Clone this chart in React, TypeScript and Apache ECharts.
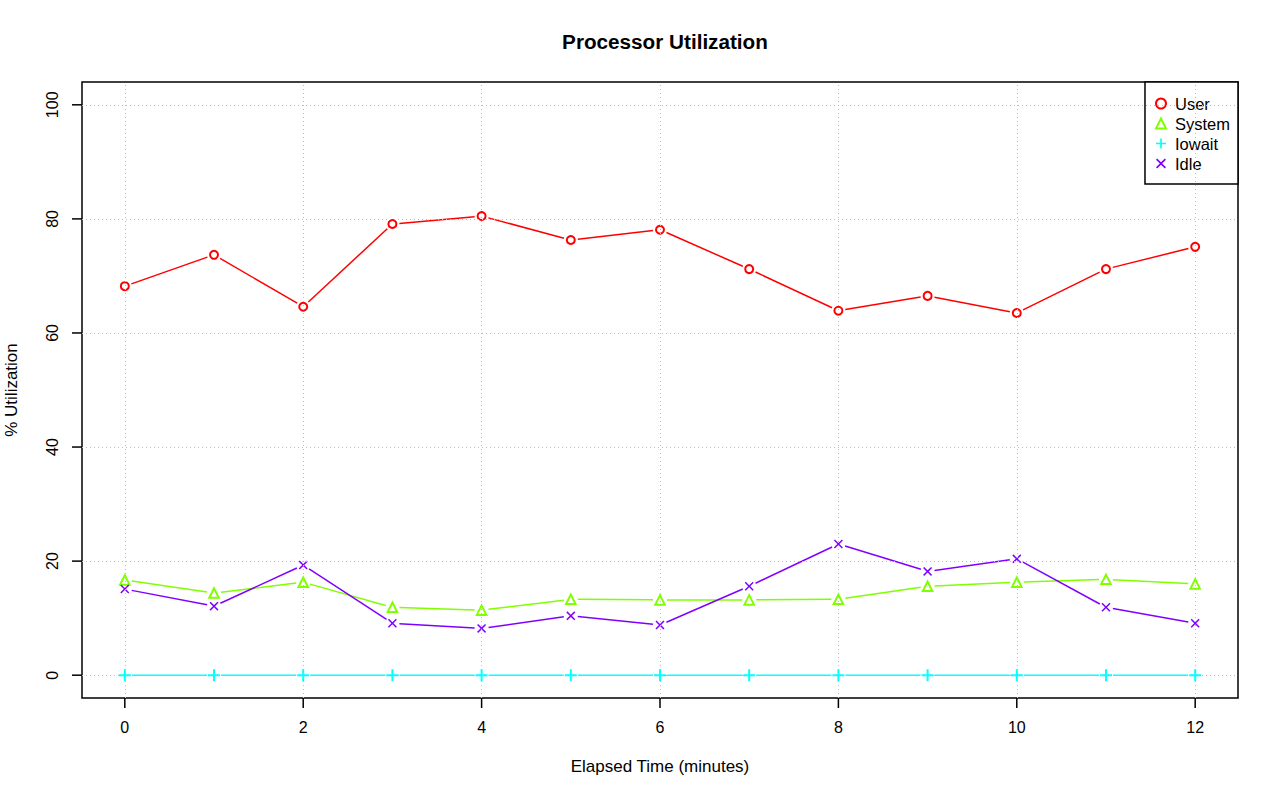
import React, { useEffect, useRef } from "react";
import * as echarts from "echarts";

const minutes = [0, 1, 2, 3, 4, 5, 6, 7, 8, 9, 10, 11, 12];
const userVals = [68.2, 73.7, 64.6, 79.1, 80.5, 76.3, 78.1, 71.2, 63.9, 66.5, 63.5, 71.2, 75.1];
const systemVals = [16.7, 14.4, 16.3, 11.9, 11.4, 13.3, 13.2, 13.2, 13.3, 15.6, 16.3, 16.8, 16.0];
const iowaitVals = [0, 0, 0, 0, 0, 0, 0, 0, 0, 0, 0, 0, 0];
const idleVals = [15.1, 12.1, 19.3, 9.1, 8.2, 10.4, 8.8, 15.6, 23.0, 18.2, 20.4, 11.9, 9.1];
const xTicks = [0, 2, 4, 6, 8, 10, 12];
const yTicks = [0, 20, 40, 60, 80, 100];
const seriesNames = ["User", "System", "Iowait", "Idle"];

const COLORS = ["#FF0000", "#80FF00", "#00FFFF", "#8000FF"];
const PLUS = "path://M5,0H7V5H12V7H7V12H5V7H0V5H5Z";
const CROSS =
  "path://M0,1.4L1.4,0L6,4.6L10.6,0L12,1.4L7.4,6L12,10.6L10.6,12L6,7.4L1.4,12L0,10.6L4.6,6Z";
const SYMBOLS = ["emptyCircle", "emptyTriangle", PLUS, CROSS];
const SIZES = [8, 9.5, 12, 9];
const FONT = "Liberation Sans";
const TICK_LEN = 10;
const X_MIN = -0.48;
const X_MAX = 12.48;
const Y_MIN = -4;
const Y_MAX = 104;

export default function App() {
  const ref = useRef<HTMLDivElement>(null);
  useEffect(() => {
    document.body.style.margin = "0";
    const chart = echarts.init(ref.current!, null, { renderer: "svg" });
    const all = [userVals, systemVals, iowaitVals, idleVals];
    const GAP = 7;

    const lineSeries = all.map((vals, si) => {
      const segs = [];
      for (let i = 0; i < vals.length - 1; i++) {
        segs.push([minutes[i], vals[i], minutes[i + 1], vals[i + 1]]);
      }
      const s: any = {
        type: "custom",
        name: seriesNames[si] + " line",
        data: segs,
        encode: { x: [0, 2], y: [1, 3] },
        z: 2,
        silent: true,
        renderItem: (params: any, api: any) => {
          const p1 = api.coord([api.value(0), api.value(1)]);
          const p2 = api.coord([api.value(2), api.value(3)]);
          const dx = p2[0] - p1[0];
          const dy = p2[1] - p1[1];
          const len = Math.sqrt(dx * dx + dy * dy);
          if (len <= 2 * GAP) return null;
          const ux = dx / len;
          const uy = dy / len;
          return {
            type: "line",
            shape: {
              x1: p1[0] + ux * GAP,
              y1: p1[1] + uy * GAP,
              x2: p2[0] - ux * GAP,
              y2: p2[1] - uy * GAP,
            },
            style: { stroke: COLORS[si], lineWidth: 1.5 },
          };
        },
      };
      if (si === 0) {
        s.markLine = {
          silent: true,
          symbol: ["none", "none"],
          label: { show: false },
          animation: false,
          lineStyle: { color: "#bdbdbd", width: 1, type: [1, 3] },
          emphasis: { disabled: true },
          data: [
            ...xTicks.map((v) => ({ xAxis: v })),
            ...yTicks.map((v) => ({ yAxis: v })),
          ],
        };
      }
      return s;
    });

    const markerSeries = all.map((vals, si) => ({
      type: "scatter",
      name: seriesNames[si],
      data: vals.map((v, i) => [minutes[i], v]),
      symbol: SYMBOLS[si],
      symbolSize: SIZES[si],
      z: 3,
      silent: true,
      itemStyle: {
        color: COLORS[si],
        borderColor: COLORS[si],
        borderWidth: si < 2 ? 1.5 : 0,
        opacity: 1,
      },
    }));

    chart.setOption({
      animation: false,
      backgroundColor: "#fff",
      title: {
        text: "Processor Utilization",
        left: 660,
        textAlign: "center",
        top: 26,
        textStyle: { fontFamily: FONT, fontSize: 20.7, fontWeight: "bold", color: "#000" },
      },
      legend: {
        orient: "vertical",
        right: 42,
        top: 82,
        data: seriesNames,
        itemWidth: 10,
        itemHeight: 10,
        itemGap: 3,
        padding: [13, 8, 12, 10],
        borderColor: "#000",
        borderWidth: 1.5,
        backgroundColor: "#fff",
        selectedMode: false,
        textStyle: {
          fontFamily: FONT,
          fontSize: 16.5,
          color: "#000",
          lineHeight: 16,
          padding: [0, 0, 0, 4],
        },
      },
      grid: {
        left: 82,
        right: 42,
        top: 82,
        bottom: 103,
        show: true,
        borderColor: "#000",
        borderWidth: 1.5,
        backgroundColor: "transparent",
        containLabel: false,
        outerBoundsMode: "none",
      },
      xAxis: {
        type: "value",
        position: "bottom",
        min: X_MIN,
        max: X_MAX,
        name: "Elapsed Time (minutes)",
        nameLocation: "middle",
        nameGap: 60,
        nameTextStyle: { fontFamily: FONT, fontSize: 17, color: "#000" },
        axisLine: { show: false, onZero: false },
        axisTick: { show: false },
        splitLine: { show: false },
        axisLabel: {
          customValues: xTicks,
          margin: 21,
          fontFamily: FONT,
          fontSize: 16,
          color: "#000",
        },
      },
      yAxis: {
        type: "value",
        position: "left",
        min: Y_MIN,
        max: Y_MAX,
        name: "% Utilization",
        nameLocation: "middle",
        nameGap: 62,
        nameRotate: 90,
        nameTextStyle: { fontFamily: FONT, fontSize: 17, color: "#000" },
        axisLine: { show: false, onZero: false },
        axisTick: { show: false },
        splitLine: { show: false },
        axisLabel: {
          customValues: yTicks,
          rotate: 90,
          margin: 22,
          fontFamily: FONT,
          fontSize: 16,
          color: "#000",
        },
      },
      series: [...lineSeries, ...markerSeries],
    });

    // Tick marks as thin filled rects, positioned through the chart's own scales
    const tickEls: any[] = [];
    try {
      const bottomY = chart.convertToPixel({ xAxisIndex: 0, yAxisIndex: 0 }, [0, Y_MIN])[1];
      const leftX = chart.convertToPixel({ xAxisIndex: 0, yAxisIndex: 0 }, [X_MIN, 0])[0];
      xTicks.forEach((v) => {
        const px = chart.convertToPixel({ xAxisIndex: 0, yAxisIndex: 0 }, [v, 0])[0];
        tickEls.push({
          type: "rect",
          silent: true,
          z: 100,
          zlevel: 0,
          shape: { x: px - 0.75, y: bottomY, width: 1.5, height: TICK_LEN },
          style: { fill: "#000", stroke: "none" },
        });
      });
      yTicks.forEach((v) => {
        const py = chart.convertToPixel({ xAxisIndex: 0, yAxisIndex: 0 }, [0, v])[1];
        tickEls.push({
          type: "rect",
          silent: true,
          z: 100,
          zlevel: 0,
          shape: { x: leftX - TICK_LEN, y: py - 0.75, width: TICK_LEN, height: 1.5 },
          style: { fill: "#000", stroke: "none" },
        });
      });
    } catch (e) {
      // leave ticks out if the conversion is unavailable
    }
    if (tickEls.length) {
      chart.setOption({ graphic: tickEls });
    }

    return () => chart.dispose();
  }, []);
  return <div ref={ref} style={{ width: 1280, height: 801 }} />;
}
